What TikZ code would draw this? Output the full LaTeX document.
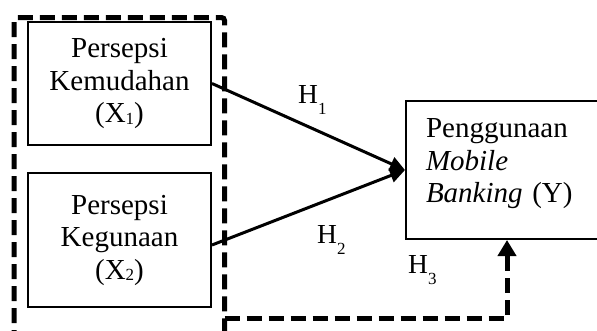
\documentclass[tikz,border=0pt]{standalone}
\usepackage{fontspec}
\setmainfont{Liberation Serif}
\usetikzlibrary{arrows.meta}
\newcommand\boxsub[1]{\raisebox{-1.5pt}{\fontsize{17}{17}\selectfont #1}}
\newcommand\hsub[1]{\raisebox{-11pt}{\fontsize{17}{17}\selectfont #1}}
\begin{document}
\begin{tikzpicture}[x=1pt,y=-1pt,
  vbox/.style={draw,line width=2pt,align=center,font=\fontsize{29}{32.5}\selectfont,inner sep=0pt},
  conn/.style={line width=3pt,-{Triangle[length=15pt,width=14pt]}},
  grpline/.style={line width=5pt,dash pattern=on 15pt off 7pt},
  hlab/.style={font=\fontsize{27.5}{27.5}\selectfont,inner sep=0pt,anchor=base west}]
\useasboundingbox (0,0) rectangle (597,330);
\node[vbox,minimum width=183pt,minimum height=123pt] (x1) at (119.5,83.5) {Persepsi\\Kemudahan\\(X\boxsub{1})};
\node[vbox,minimum width=183pt,minimum height=134pt] (x2) at (119.5,240) {Persepsi\\Kegunaan\\(X\boxsub{2})};
\node[vbox,align=left,text width=162pt,inner xsep=20pt,minimum height=138pt,anchor=north west] (y) at (405,100) {Penggunaan\\\textit{Mobile}\\\textit{Banking} (Y)\\[-14pt]\mbox{}};
\draw[conn] (x1.east) -- (y.west);
\draw[conn] ([yshift=-5pt]x2.east) -- (y.west);
\draw[grpline,rounded corners=3pt] (14,345) -- (14,17.5) -- (224.5,17.5) -- (224.5,345);
\coordinate (h3s) at (224.5,318);
\draw[grpline,-{Triangle[length=16pt,width=18pt]}] (h3s) -| (y.south);
\node[hlab] (h1) at (298,103) {H\hsub{1}};
\node[hlab] (h2) at (317,243) {H\hsub{2}};
\node[hlab] (h3) at (408,273) {H\hsub{3}};
\end{tikzpicture}
\end{document}
